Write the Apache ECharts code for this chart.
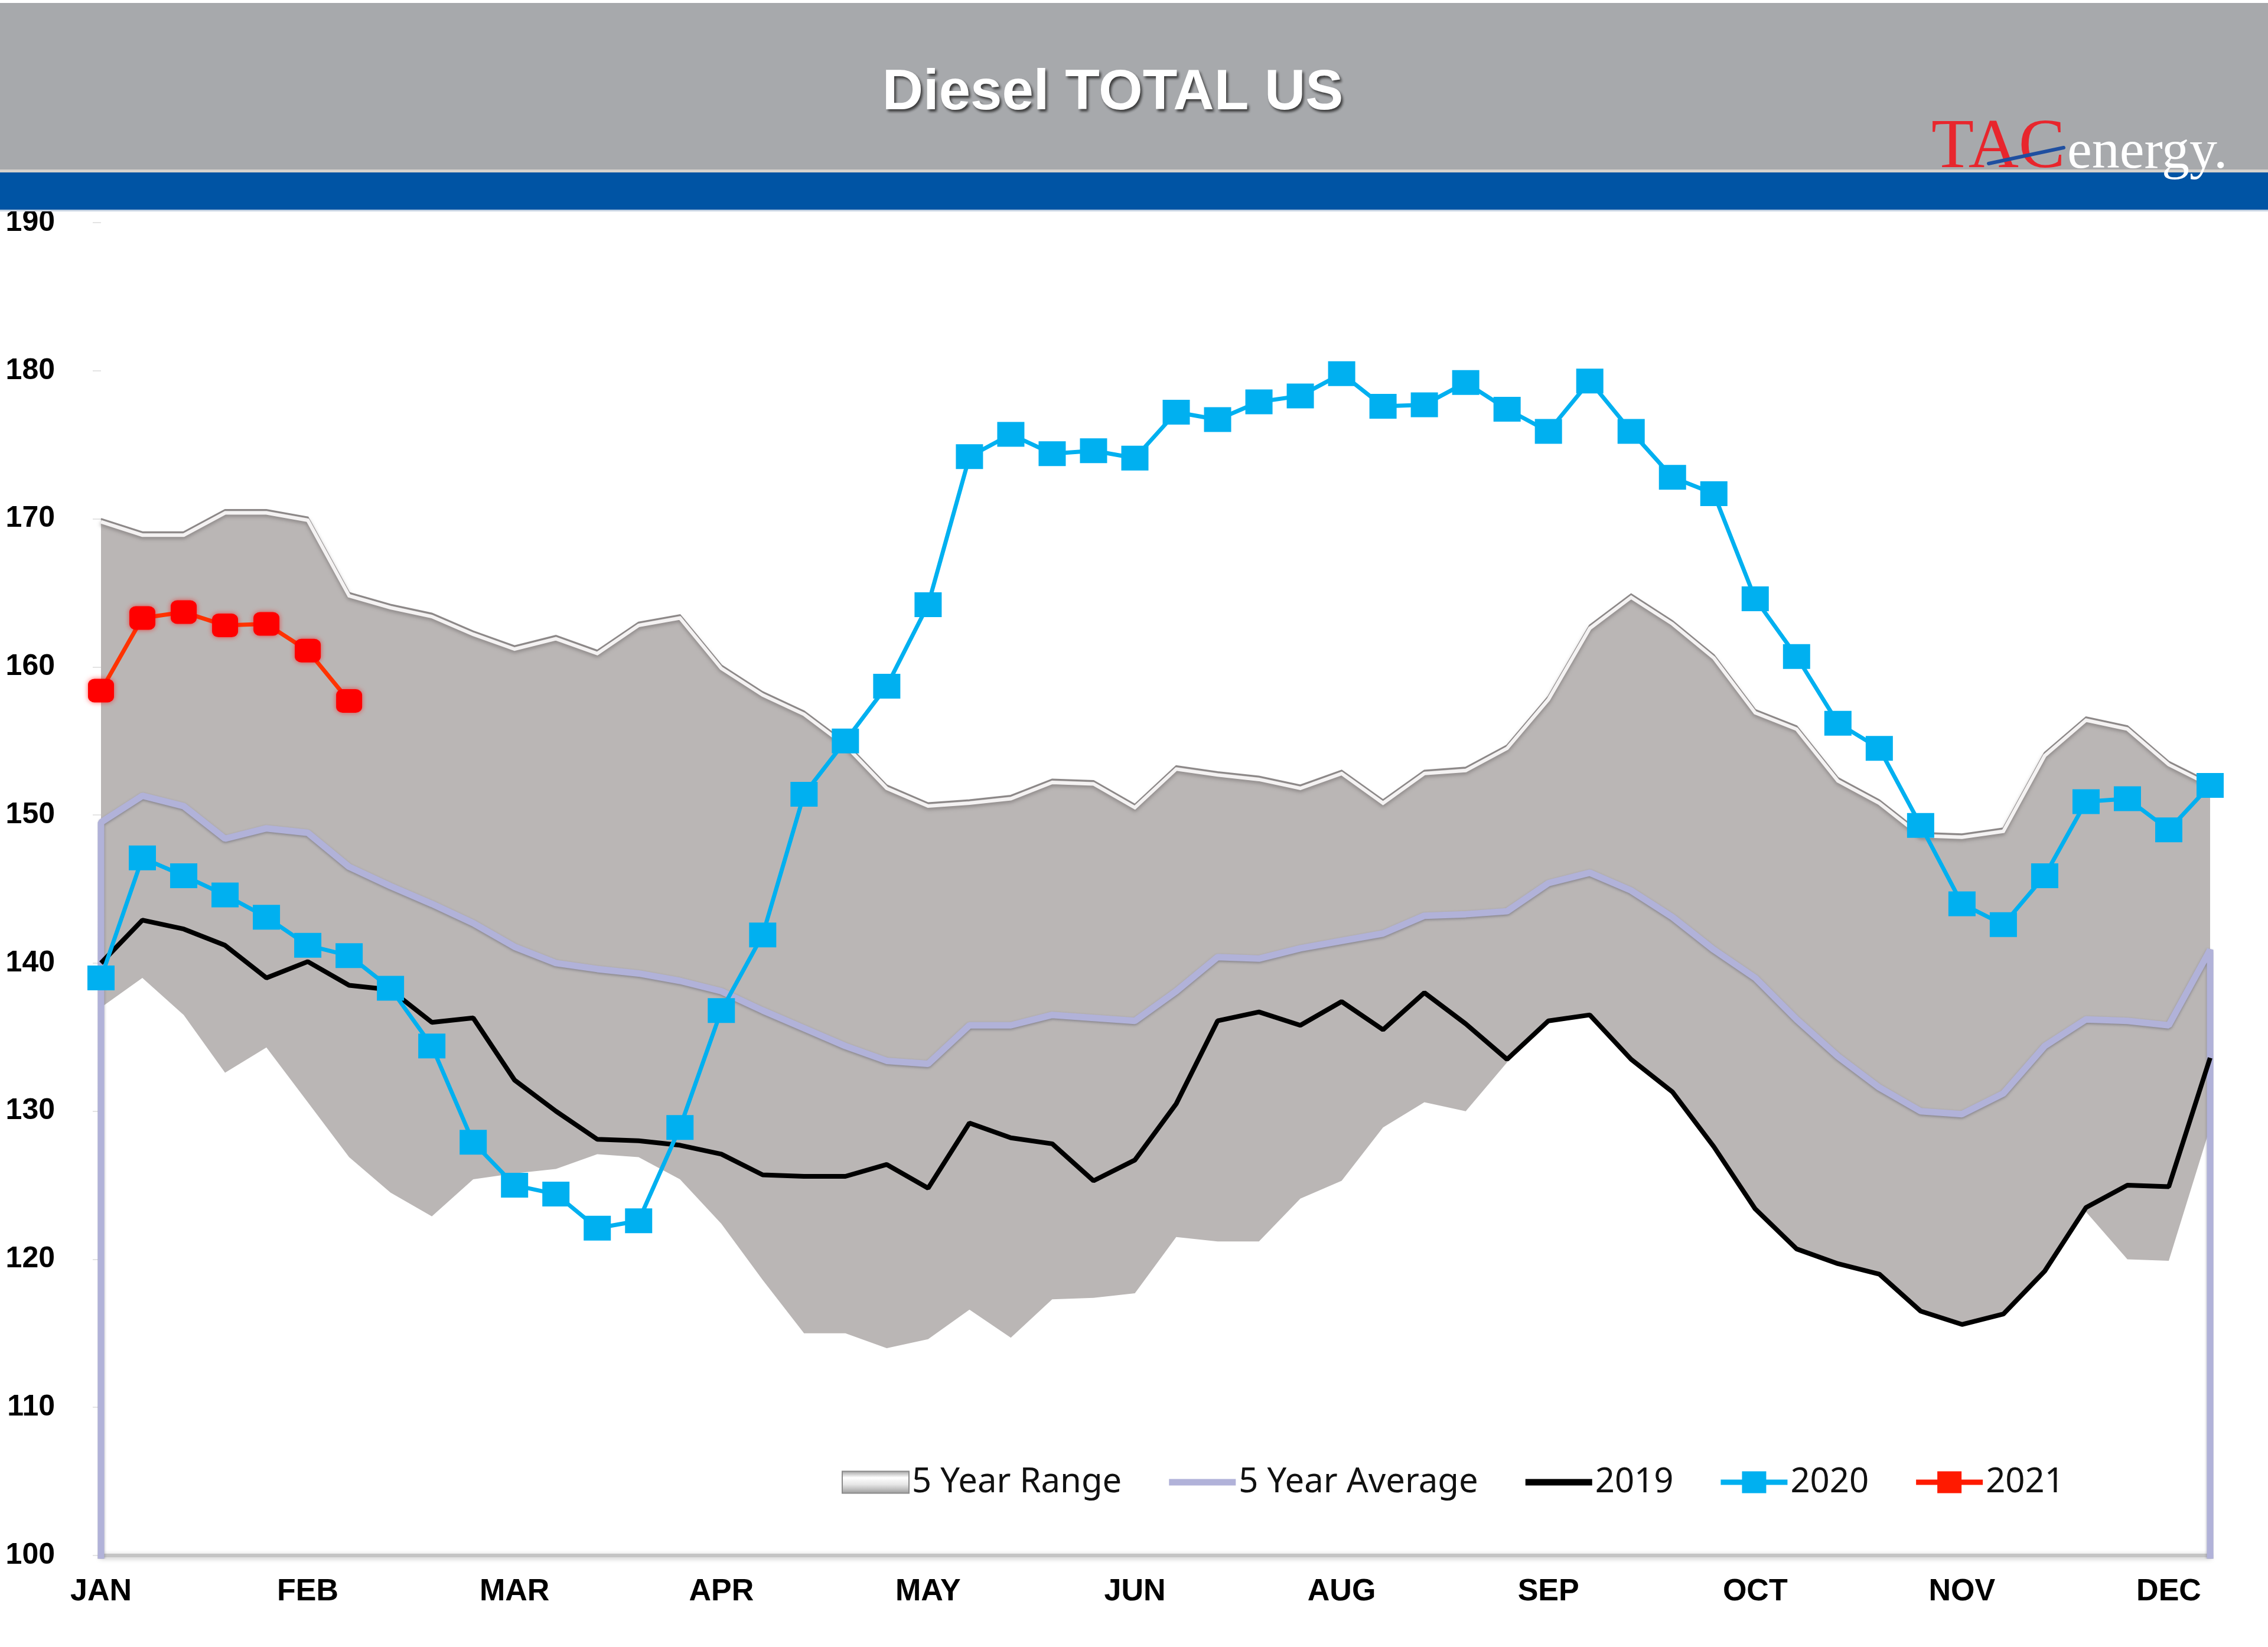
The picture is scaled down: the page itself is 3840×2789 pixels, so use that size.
<!DOCTYPE html>
<html>
<head>
<meta charset="utf-8">
<script src="https://cdn.jsdelivr.net/npm/echarts@6/dist/echarts.min.js"></script>
<style>
html,body{margin:0;padding:0;background:#fff;}
#chart{width:3840px;height:2789px;}
</style>
</head>
<body>
<div id="chart"></div>
<script>
// Month tick labels (as printed in the source chart, one every 5 weeks)
var monthLabels = ['JAN','FEB','MAR','APR','MAY','JUN','AUG','SEP','OCT','NOV','DEC'];
var yTicks = [100,110,120,130,140,150,160,170,180,190];

// Weekly values (52 weeks)
var rangeMax = [170.0,169.1,169.1,170.6,170.6,170.1,165.0,164.2,163.6,162.4,161.4,162.1,161.1,163.0,163.5,160.1,158.3,157.0,154.9,152.0,150.8,151.0,151.3,152.4,152.3,150.7,153.3,152.9,152.6,152.0,153.0,151.0,153.0,153.2,154.7,158.0,162.8,164.9,163.1,160.8,157.1,156.0,152.5,151.0,148.8,148.7,149.1,154.2,156.6,156.0,153.6,152.2];
var rangeMin = [137.0,139.0,136.5,132.6,134.3,130.6,126.9,124.5,122.9,125.4,125.8,126.1,127.1,126.9,125.4,122.4,118.6,115.0,115.0,114.0,114.6,116.6,114.7,117.3,117.4,117.7,121.5,121.2,121.2,124.1,125.3,128.9,130.6,130.0,133.3,136.1,136.5,133.5,131.3,127.6,123.4,120.7,119.7,119.0,116.5,115.6,116.3,119.2,123.2,120.0,119.9,128.9];
var avg5 = [149.5,151.3,150.6,148.4,149.1,148.8,146.5,145.2,144.0,142.7,141.1,140.0,139.6,139.3,138.8,138.1,136.8,135.6,134.4,133.4,133.2,135.8,135.8,136.5,136.3,136.1,138.1,140.4,140.3,141.0,141.5,142.0,143.2,143.3,143.5,145.4,146.1,144.9,143.1,140.9,139.0,136.2,133.7,131.6,130.0,129.8,131.2,134.4,136.2,136.1,135.8,140.9];
var y2019 = [140.0,142.9,142.3,141.2,139.0,140.1,138.5,138.2,136.0,136.3,132.1,130.0,128.1,128.0,127.7,127.1,125.7,125.6,125.6,126.4,124.8,129.2,128.2,127.8,125.3,126.7,130.5,136.1,136.7,135.8,137.4,135.5,138.0,135.9,133.5,136.1,136.5,133.5,131.3,127.6,123.4,120.7,119.7,119.0,116.5,115.6,116.3,119.2,123.5,125.0,124.9,133.6];
var y2020 = [139.0,147.1,145.9,144.6,143.1,141.2,140.5,138.3,134.4,127.9,125.0,124.4,122.1,122.6,128.9,136.8,141.9,151.4,155.0,158.7,164.2,174.2,175.7,174.4,174.6,174.1,177.2,176.7,177.9,178.3,179.8,177.6,177.7,179.2,177.4,175.9,179.3,175.9,172.8,171.7,164.6,160.7,156.2,154.5,149.3,144.0,142.6,145.9,150.9,151.1,149.0,152.0];
var y2021 = [158.4,163.3,163.7,162.8,162.9,161.1,157.7];

function pairs(arr){ return arr.map(function(v,i){ return [i,v]; }); }
var lastIdx = rangeMax.length - 1;
// the average series in the source drops to zero at both ends (vertical edges)
var avgData = [[0,0]].concat(pairs(avg5)).concat([[lastIdx,0]]);
var rangeData = rangeMax.map(function(v,i){ return [i, rangeMin[i], v]; });

// legend icons: thin bar (line) and bar + square marker; the zero-length moves fix the icon box
var lineIcon = 'path://M0,0L0.01,0M0,37L0.01,37M0,13L113,13L113,24L0,24Z';
var markIcon = 'path://M0,0L0.01,0M0,37L0.01,37M0,14L36,14L36,0L77,0L77,14L113,14L113,23L77,23L77,37L36,37L36,23L0,23Z';

var chart = echarts.init(document.getElementById('chart'), null, {renderer:'canvas'});
var option = {
  animation: false,
  backgroundColor: '#ffffff',
  title: {
    text: 'Diesel TOTAL US',
    left: 1879, top: 106, textAlign: 'center', z: 60,
    textStyle: {
      fontFamily: 'Liberation Sans', fontWeight: 'bold', fontSize: 96, color: '#ffffff',
      textShadowColor: 'rgba(40,40,40,0.85)', textShadowBlur: 4, textShadowOffsetX: 3, textShadowOffsetY: 4
    }
  },
  graphic: [
    {type:'rect', z:50, shape:{x:0,y:5,width:3840,height:284}, style:{fill:'#A7A9AC'}},
    {type:'rect', z:50, shape:{x:0,y:287,width:3840,height:5}, style:{fill:'#D6D2CC'}},
    {type:'rect', z:50, shape:{x:0,y:292,width:3840,height:64}, style:{fill:'#0054A4'}},
    {type:'rect', z:50, shape:{x:0,y:355,width:3840,height:3}, style:{fill:'#C5D2E2'}},
    {type:'text', z:61, style:{text:'TAC', x:3270, y:252, font:'118px "Liberation Serif"', fill:'#E8262D', textAlign:'left', textVerticalAlign:'middle', verticalAlign:'middle'}},
    {type:'line', z:62, shape:{x1:3367,y1:277,x2:3494,y2:250}, style:{stroke:'#1F4FA0', lineWidth:6, lineCap:'round'}},
    {type:'text', z:61, style:{text:'energy.', x:3500, y:259, font:'94px "Liberation Serif"', fill:'#ffffff', textAlign:'left', textVerticalAlign:'middle', verticalAlign:'middle'}}
  ],
  legend: {
    left: 1420, top: 2476,
    itemWidth: 113, itemHeight: 37, itemGap: 80,
    textStyle: {fontFamily: 'Noto Sans', fontSize: 58, color: '#111111'},
    data: [
      {name:'5 Year Range', icon:'rect', itemStyle:{
        color: new echarts.graphic.LinearGradient(0,0,0,1,[{offset:0,color:'#9E9E9E'},{offset:0.3,color:'#FFFFFF'},{offset:0.6,color:'#E6E6E6'},{offset:1,color:'#9A9A9A'}]),
        borderColor:'#8A8A8A', borderWidth:2}},
      {name:'5 Year Average', icon: lineIcon, itemStyle:{color:'#B1B2D9', borderWidth:0}},
      {name:'2019', icon: lineIcon, itemStyle:{color:'#000000', borderWidth:0}},
      {name:'2020', icon: markIcon, itemStyle:{color:'#00B0F0', borderWidth:0}},
      {name:'2021', icon: markIcon, itemStyle:{color:'#FF1A00', borderWidth:0}}
    ]
  },
  grid: {left: 171, right: 98, top: 377, bottom: 155, containLabel: false},
  xAxis: {
    type: 'value', min: 0, max: lastIdx, interval: 5,
    axisLine: {show: true, lineStyle: {color: '#C4C4C4', width: 6, shadowColor: 'rgba(0,0,0,0.25)', shadowBlur: 8, shadowOffsetY: 2}},
    axisTick: {show: false},
    splitLine: {show: false},
    axisLabel: {
      margin: 36, showMaxLabel: false,
      fontFamily: 'Liberation Sans', fontWeight: 'bold', fontSize: 52, color: '#000',
      formatter: function(v){ return (v % 5 === 0 && monthLabels[v/5]) ? monthLabels[v/5] : ''; }
    }
  },
  yAxis: {
    type: 'value', min: yTicks[0], max: yTicks[yTicks.length-1], interval: 10,
    axisLine: {show: false},
    axisTick: {show: true, length: 14, lineStyle: {color: '#E4E4E4', width: 2}},
    splitLine: {show: false},
    axisLabel: {margin: 78, fontFamily: 'Liberation Sans', fontWeight: 'bold', fontSize: 50, color: '#000'}
  },
  series: [
    {
      name: '5 Year Range', type: 'custom', coordinateSystem: 'cartesian2d', z: 1,
      data: rangeData,
      encode: {x: 0, y: [1, 2]},
      itemStyle: {color: '#BAB6B5'},
      renderItem: function(params, api){
        if (params.dataIndex !== 0) return null;
        var top = [], bot = [];
        for (var i = 0; i < rangeData.length; i++) {
          top.push(api.coord([rangeData[i][0], rangeData[i][2]]));
          bot.push(api.coord([rangeData[i][0], rangeData[i][1]]));
        }
        var poly = top.concat(bot.slice().reverse());
        return {
          type: 'group',
          children: [
            {type: 'polygon', shape: {points: poly}, style: {fill: '#BAB6B5'}},
            {type: 'polyline', shape: {points: top}, style: {fill: null, stroke: '#8E8A8A', lineWidth: 3}},
            {type: 'polyline', shape: {points: top.map(function(p){ return [p[0], p[1] + 5]; })},
              style: {fill: null, stroke: '#F4F2F2', lineWidth: 6, shadowColor: 'rgba(120,115,115,0.8)', shadowBlur: 6, shadowOffsetY: 3}}
          ]
        };
      }
    },
    {
      name: '5 Year Average', type: 'line', data: avgData, symbol: 'none', z: 3,
      lineStyle: {color: '#B1B2D9', width: 11, shadowColor: 'rgba(70,70,90,0.45)', shadowBlur: 4, shadowOffsetY: 2},
      itemStyle: {color: '#B1B2D9'}
    },
    {
      name: '2019', type: 'line', data: pairs(y2019), symbol: 'none', z: 4,
      lineStyle: {color: '#000000', width: 8},
      itemStyle: {color: '#000000'}
    },
    {
      name: '2020', type: 'line', data: pairs(y2020), symbol: 'rect', symbolSize: [46, 42], z: 5,
      lineStyle: {color: '#00B0F0', width: 7},
      itemStyle: {color: '#00B0F0'}
    },
    {
      name: '2021', type: 'line', data: pairs(y2021), symbol: 'roundRect', symbolSize: [44, 40], z: 6,
      lineStyle: {color: '#FF3300', width: 7},
      itemStyle: {color: '#FF0000', shadowColor: 'rgba(255,0,0,0.6)', shadowBlur: 8}
    }
  ]
};
chart.setOption(option);
</script>
</body>
</html>
